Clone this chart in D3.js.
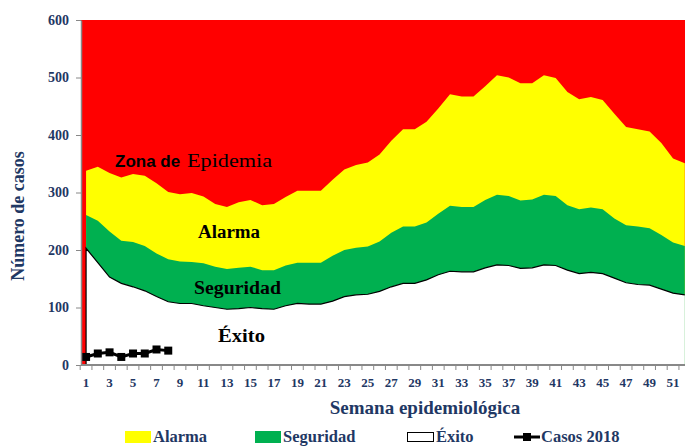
<!DOCTYPE html>
<html>
<head>
<meta charset="utf-8">
<script src="https://cdn.jsdelivr.net/npm/d3@7"></script>
<style>
body{margin:0;background:#fff;}
text{font-family:"Liberation Serif",serif;}
</style>
</head>
<body>
<div class="canvas"></div>
<script>
// semanas epidemiologicas y limites del canal endemico
const weeks=d3.range(1,53);
const epidemia=[338,345,334,326,332,329,316,301,297,299,293,280,275,283,287,278,280,292,303,303,303,322,340,348,352,366,390,410,410,423,446,471,467,467,485,504,500,490,490,504,499,475,462,466,461,437,414,410,406,386,359,351];
const seguridad=[261,251,232,216,214,207,194,184,180,179,177,171,167,169,171,165,165,173,178,178,178,190,200,204,206,215,230,241,241,248,263,277,275,275,287,296,294,286,288,296,294,278,271,274,271,255,243,241,238,226,213,207];
const exito=[203,178,153,142,136,129,119,110,107,107,103,100,97,98,100,98,97,103,107,106,106,111,119,122,123,128,136,142,142,148,157,163,162,162,169,174,173,168,169,174,173,165,159,161,159,151,143,140,139,132,125,122];
const casos2018=[14,20,22,14,20,20,27,25];
const yTicks=[0,100,200,300,400,500,600];
const xLabels=weeks.filter(w=>w%2===1);

const navy='#1f3864';
const svg=d3.select('.canvas')
  .append('svg')
    .attr('width',685)
    .attr('height',448);

const plotLeft=81, plotTop=20, plotBottom=365;
const step=11.74;
const x=d3.scaleBand()
  .domain(weeks)
  .range([80.2,80.2+52*step]);
const cx=w=>x(w)+x.bandwidth()/2;
const y=d3.scaleLinear()
  .domain([0,600])
  .range([plotBottom,plotTop]);

const graph=svg.append('g');

// zona de epidemia = fondo rojo
graph.append('rect')
  .attr('x',plotLeft)
  .attr('y',y(600))
  .attr('width',x.range()[1]-plotLeft)
  .attr('height',y(0)-y(600))
  .attr('fill','#ff0000');

const area=d3.area()
  .x((d,i)=>cx(weeks[i]))
  .y0(y(0))
  .y1(d=>y(d));

graph.append('path').attr('d',area(epidemia)).attr('fill','#ffff00');
graph.append('path').attr('d',area(seguridad)).attr('fill','#00b050');
graph.append('path').attr('d',area(exito)).attr('fill','#ffffff');

// borde del area de exito
const edge=[{w:1,v:0}].concat(weeks.map((w,i)=>({w:w,v:exito[i]})));
graph.append('path')
  .attr('d',d3.line().x(d=>cx(d.w)).y(d=>y(d.v))(edge))
  .attr('fill','none')
  .attr('stroke','#000')
  .attr('stroke-width',1.2);

// etiquetas de zonas
const zona=graph.append('text').attr('y',166.5).attr('x',115).attr('fill','#000');
zona.append('tspan').text('Zona de ')
  .style('font-family','"Liberation Sans",sans-serif')
  .attr('font-weight','bold').attr('font-size',17);
graph.append('text').attr('x',187).attr('y',166.5)
  .attr('font-size',18.5).attr('textLength',85).attr('lengthAdjust','spacingAndGlyphs')
  .text('Epidemia');
[['Alarma',198,238,62],['Seguridad',194,294,87],['Éxito',218,342,47]].forEach(t=>{
  graph.append('text')
    .attr('x',t[1]).attr('y',t[2])
    .attr('font-size',18).attr('font-weight','bold')
    .attr('textLength',t[3]).attr('lengthAdjust','spacingAndGlyphs')
    .text(t[0]);
});

// casos 2018
graph.append('path')
  .attr('d',d3.line().x((d,i)=>cx(weeks[i])).y(d=>y(d))(casos2018))
  .attr('fill','none')
  .attr('stroke','#000')
  .attr('stroke-width',3);
graph.selectAll('rect.mk')
  .data(casos2018)
  .enter()
  .append('rect')
    .attr('class','mk')
    .attr('x',(d,i)=>cx(weeks[i])-4)
    .attr('y',d=>y(d)-4)
    .attr('width',8)
    .attr('height',8)
    .attr('fill','#000');

// ejes
const yAxis=d3.axisLeft(y).tickValues(yTicks).tickSize(5).tickSizeOuter(0).tickPadding(7);
const yAxisGroup=svg.append('g').attr('transform',`translate(${plotLeft},0)`).call(yAxis);
yAxisGroup.select('.domain').attr('stroke','#888').attr('stroke-width',1.5);
yAxisGroup.selectAll('line').attr('stroke','#888');
yAxisGroup.selectAll('text')
  .attr('font-family','"Liberation Serif",serif')
  .attr('font-size',14).attr('font-weight','bold').attr('fill',navy);

const xAxisGroup=svg.append('g').attr('transform',`translate(0,${plotBottom})`);
xAxisGroup.append('line')
  .attr('x1',plotLeft).attr('x2',685)
  .attr('stroke','#888').attr('stroke-width',2);
xAxisGroup.selectAll('line.tk')
  .data(weeks)
  .enter()
  .append('line')
    .attr('class','tk')
    .attr('x1',d=>x(d)).attr('x2',d=>x(d))
    .attr('y1',0).attr('y2',5)
    .attr('stroke','#888');
xAxisGroup.selectAll('text')
  .data(xLabels)
  .enter()
  .append('text')
    .attr('x',d=>cx(d))
    .attr('y',22)
    .attr('text-anchor','middle')
    .attr('font-size',13).attr('font-weight','bold').attr('fill',navy)
    .text(d=>d);

// titulos de ejes
svg.append('text')
  .attr('transform','translate(24,216) rotate(-90)')
  .attr('text-anchor','middle')
  .attr('font-size',18).attr('font-weight','bold').attr('fill',navy)
  .text('Número de casos');
svg.append('text')
  .attr('x',425).attr('y',414)
  .attr('text-anchor','middle')
  .attr('font-size',19).attr('font-weight','bold').attr('fill',navy)
  .text('Semana epidemiológica');

// leyenda
const legend=svg.append('g');
legend.append('rect').attr('x',125).attr('y',431).attr('width',26).attr('height',12).attr('fill','#ffff00');
legend.append('rect').attr('x',255).attr('y',431).attr('width',26).attr('height',12).attr('fill','#00b050');
legend.append('rect').attr('x',407.5).attr('y',432.5).attr('width',26).attr('height',9).attr('fill','#fff').attr('stroke','#000');
legend.append('line').attr('x1',514).attr('x2',540).attr('y1',437).attr('y2',437).attr('stroke','#000').attr('stroke-width',3);
legend.append('rect').attr('x',523).attr('y',433).attr('width',8).attr('height',8).attr('fill','#000');
[['Alarma',153],['Seguridad',283],['Éxito',436],['Casos 2018',541]].forEach(t=>{
  legend.append('text')
    .attr('x',t[1]).attr('y',442)
    .attr('font-size',16.5).attr('font-weight','bold').attr('fill',navy)
    .text(t[0]);
});
</script>
</body>
</html>
